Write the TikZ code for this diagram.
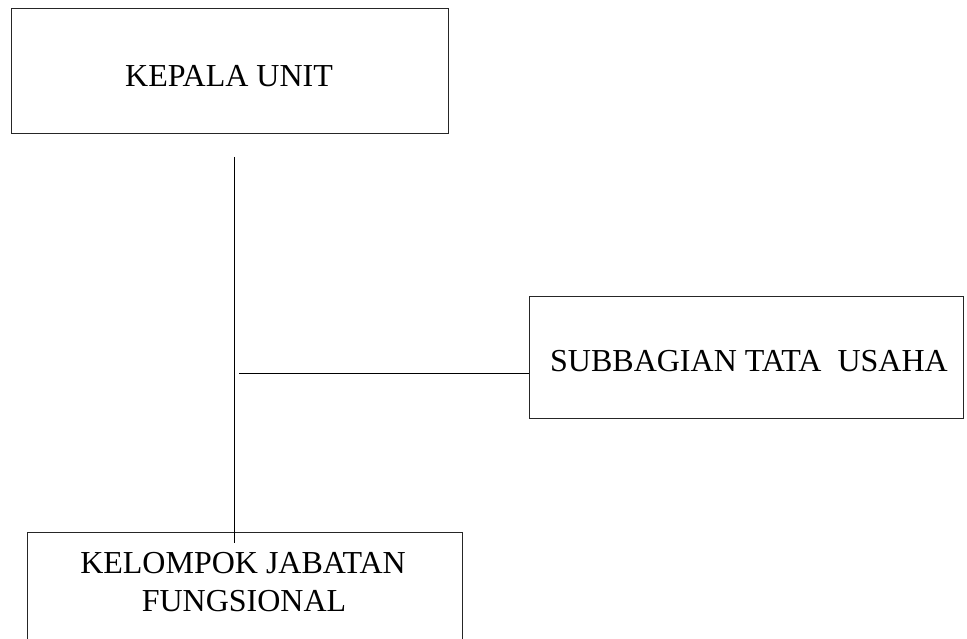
\documentclass[tikz,border=0pt]{standalone}
\usepackage{fontspec}
\setmainfont{Liberation Serif}
\usepackage{tikz}
\usetikzlibrary{positioning,calc}

\begin{document}
\begin{tikzpicture}[x=1pt, y=-1pt,
    kotak/.style={draw=black!85, line width=0.9pt, inner sep=0pt},
    teks/.style={inner sep=0pt, anchor=base, font=\fontsize{32}{38}\selectfont}]
    \useasboundingbox (0,0) rectangle (967,639);
    \clip (0,0) rectangle (967,639);
    % kotak-kotak
    \node[kotak, minimum width=437, minimum height=125] (kepala) at (229.5,70.5) {};
    \node[kotak, minimum width=434, minimum height=122] (tu) at (746,357) {};
    \node[kotak, minimum width=435, minimum height=128] (kjf) at (244.5,596) {};
    % tulisan
    \node[teks] (kepalateks) at (229,87) {KEPALA UNIT};
    \node[teks, anchor=base west] (tuteks) at (550,371) {SUBBAGIAN TATA\ \ USAHA};
    \node[teks] (kjfteks1) at (243,573) {KELOMPOK JABATAN};
    \node[teks] (kjfteks2) at (244,611) {FUNGSIONAL};
    % garis
    \coordinate (atas) at (234,157);
    \coordinate (bawah) at (234,543);
    \coordinate (cabang) at (239,373);
    \draw [line width=0.8pt] (atas) -- (bawah);
    \draw [line width=0.8pt] (cabang) -- (cabang -| tu.west);
\end{tikzpicture}
\end{document}
